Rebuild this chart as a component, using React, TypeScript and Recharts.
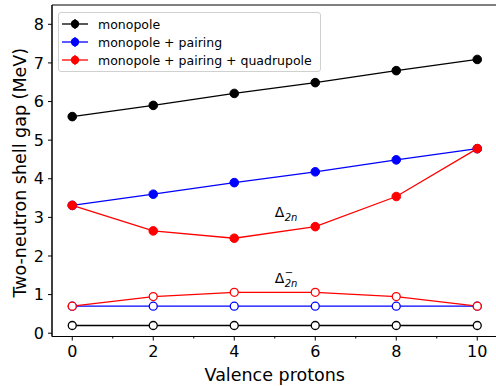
import { Label, Legend, Line, LineChart, ReferenceArea, ReferenceDot, XAxis, YAxis } from "recharts";

const protons = [0, 2, 4, 6, 8, 10];
const monopole = [5.61, 5.9, 6.21, 6.49, 6.8, 7.09];
const monoPairing = [3.31, 3.6, 3.9, 4.18, 4.49, 4.78];
const monoPairQuad = [3.31, 2.65, 2.46, 2.76, 3.54, 4.78];
const monopoleMinus = [0.2, 0.2, 0.2, 0.2, 0.2, 0.2];
const monoPairingMinus = [0.7, 0.7, 0.7, 0.7, 0.7, 0.7];
const monoPairQuadMinus = [0.7, 0.95, 1.06, 1.06, 0.95, 0.7];

const seriesNames = ["monopole", "monopole + pairing", "monopole + pairing + quadrupole"];

const xTicks = [0, 1, 2, 3, 4, 5, 6, 7, 8, 9, 10];
const yTicks = [0, 1, 2, 3, 4, 5, 6, 7, 8];

const annotations = [
  { x: 5, y: 3.0, sup: "" },
  { x: 5, y: 1.3, sup: "\u2212" },
];

const rows = protons.map((p, i) => ({
  p,
  m: monopole[i],
  mp: monoPairing[i],
  mpq: monoPairQuad[i],
  mMinus: monopoleMinus[i],
  mpMinus: monoPairingMinus[i],
  mpqMinus: monoPairQuadMinus[i],
}));

const FONT = "'DejaVu Sans', sans-serif";
const TICK_SIZE = 4;
const TICK_MARGIN = 5;

function XTick(props: any) {
  const { x, y, payload } = props;
  const axisY = y - TICK_SIZE - TICK_MARGIN;
  const major = payload.value % 2 === 0;
  return (
    <g>
      <line x1={x} x2={x} y1={axisY} y2={axisY + (major ? TICK_SIZE : 2)} stroke="#000" strokeWidth={1} />
      {major && (
        <text x={x} y={y} dy="0.71em" textAnchor="middle" fontSize={16} fontFamily={FONT} fill="#000">
          {payload.value}
        </text>
      )}
    </g>
  );
}

function DeltaLabel({ viewBox, sup }: any) {
  const x = viewBox.x;
  const y = viewBox.y;
  return (
    <g fontFamily={FONT} fill="#000">
      <text x={x} y={y} fontSize={14}>
        Δ
      </text>
      <text x={x + 10} y={y + 4} fontSize={10} fontStyle="italic">
        2n
      </text>
      {sup && (
        <text x={x + 10} y={y - 7} fontSize={10}>
          {sup}
        </text>
      )}
    </g>
  );
}

function LegendBox({ payload }: any) {
  const entries = seriesNames
    .map((n) => (payload || []).find((e: any) => e.value === n))
    .filter(Boolean);
  return (
    <div
      style={{
        border: "1px solid #d0d0d0",
        borderRadius: 3,
        background: "rgba(255,255,255,0.85)",
        padding: "2px 8px 2px 3px",
        fontFamily: FONT,
        fontSize: 12.5,
      }}
    >
      {entries.map((e: any) => (
        <div key={e.value} style={{ display: "flex", alignItems: "center", height: 18, whiteSpace: "nowrap" }}>
          <svg width={26} height={18} style={{ marginRight: 10 }}>
            <line x1={0} x2={26} y1={9} y2={9} stroke={e.color} strokeWidth={1.3} />
            <line x1={13} x2={13} y1={4} y2={14} stroke={e.color} strokeWidth={1.3} />
            <circle cx={13} cy={9} r={4.2} fill={e.color} />
          </svg>
          <span>{e.value}</span>
        </div>
      ))}
    </div>
  );
}

const filledDot = (c: string) => ({ r: 4.3, fill: c, stroke: c, strokeWidth: 1 });
const openDot = (c: string) => ({ r: 4, fill: "#fff", stroke: c, strokeWidth: 1.3 });

export default function App() {
  return (
    <div style={{ position: "absolute", left: 0, top: 0, width: 496, height: 386, overflow: "hidden", background: "#fff" }}>
      <LineChart width={500} height={386} data={rows} margin={{ top: 5, right: 2.5, left: 0, bottom: 0 }}>
        <ReferenceArea x1={-0.5} x2={10.5} y1={-0.085} y2={8.5} fill="none" stroke="#000" strokeWidth={1} />
        <XAxis
          dataKey="p"
          type="number"
          domain={[-0.5, 10.5]}
          ticks={xTicks}
          interval={0}
          height={49.5}
          tickSize={TICK_SIZE}
          tickMargin={TICK_MARGIN}
          tickLine={false}
          tick={<XTick />}
          axisLine={{ stroke: "#000" }}
        >
          <Label
            content={({ viewBox }: any) => (
              <text
                x={viewBox.x + viewBox.width / 2}
                y={viewBox.y + 44.5}
                textAnchor="middle"
                fontSize={17.5}
                fontFamily={FONT}
                fill="#000"
              >
                Valence protons
              </text>
            )}
          />
        </XAxis>
        <YAxis
          type="number"
          domain={[-0.085, 8.5]}
          ticks={yTicks}
          interval={0}
          width={52}
          tickSize={TICK_SIZE}
          tickMargin={4}
          tick={{ fontSize: 16, fontFamily: FONT, fill: "#000" }}
          tickLine={{ stroke: "#000" }}
          axisLine={{ stroke: "#000" }}
        >
          <Label
            content={({ viewBox }: any) => {
              const cx = viewBox.x + 20;
              const cy = viewBox.y + viewBox.height / 2 + 2;
              return (
                <text
                  x={cx}
                  y={cy}
                  transform={`rotate(-90 ${cx} ${cy})`}
                  textAnchor="middle"
                  dominantBaseline="central"
                  fontSize={17.5}
                  fontFamily={FONT}
                  fill="#000"
                >
                  Two-neutron shell gap (MeV)
                </text>
              );
            }}
          />
        </YAxis>
        <Legend
          layout="vertical"
          align="center"
          verticalAlign="middle"
          wrapperStyle={{ left: 58, top: 12, width: "auto" }}
          content={<LegendBox />}
        />
        <Line dataKey="m" name={seriesNames[0]} stroke="#000" strokeWidth={1.3} dot={filledDot("#000")} isAnimationActive={false} />
        <Line dataKey="mp" name={seriesNames[1]} stroke="#0000ff" strokeWidth={1.3} dot={filledDot("#0000ff")} isAnimationActive={false} />
        <Line dataKey="mpq" name={seriesNames[2]} stroke="#ff0000" strokeWidth={1.3} dot={filledDot("#ff0000")} isAnimationActive={false} />
        <Line dataKey="mMinus" legendType="none" stroke="#000" strokeWidth={1.3} dot={openDot("#000")} isAnimationActive={false} />
        <Line dataKey="mpMinus" legendType="none" stroke="#0000ff" strokeWidth={1.3} dot={openDot("#0000ff")} isAnimationActive={false} />
        <Line dataKey="mpqMinus" legendType="none" stroke="#ff0000" strokeWidth={1.3} dot={openDot("#ff0000")} isAnimationActive={false} />
        {annotations.map((a) => (
          <ReferenceDot key={a.y} x={a.x} y={a.y} r={0} fill="none" stroke="none" label={<DeltaLabel sup={a.sup} />} />
        ))}
      </LineChart>
    </div>
  );
}
